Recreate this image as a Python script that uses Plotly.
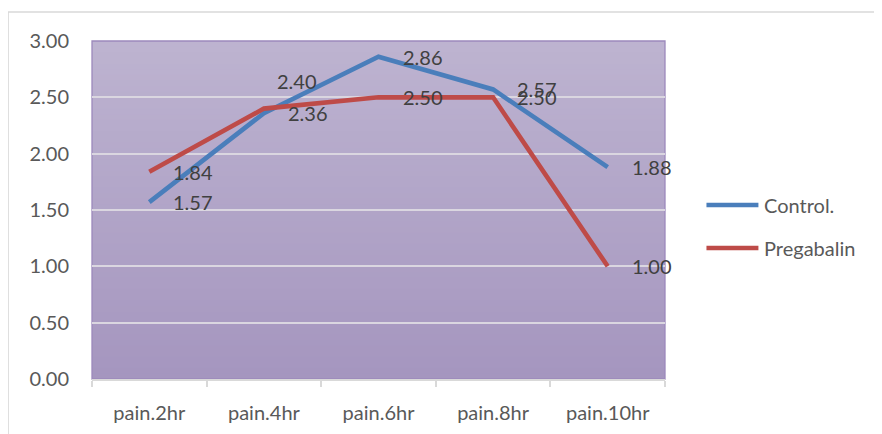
import plotly.graph_objects as go

categories = ["pain.2hr", "pain.4hr", "pain.6hr", "pain.8hr", "pain.10hr"]
series_names = ["Control.", "Pregabalin"]
control = [1.57, 2.36, 2.86, 2.57, 1.88]
pregabalin = [1.84, 2.40, 2.50, 2.50, 1.00]
y_ticks = [0, 0.5, 1.0, 1.5, 2.0, 2.5, 3.0]

colors = ["#4A7EBB", "#BE4B48"]
FONT = "Lato"
FS = 20
OFF = 8  # page body offset compensation
W, H = 882, 434
ML, MT = 92 - OFF, 41 - OFF
PW, PH = 573.5, 338
MR = W - ML - PW
MB = H - MT - PH


def px_x(p):
    return (p - OFF - ML) / PW


def px_y(p):
    return (MT + PH - (p - OFF)) / PH


fig = go.Figure()
all_series = [control, pregabalin]
for name, vals, col in zip(series_names, all_series, colors):
    fig.add_trace(go.Scatter(
        x=categories, y=vals, mode="lines", name=name,
        line=dict(color=col, width=4.6), showlegend=False,
    ))

shapes = []
# gradient background: overlapping bands (no seams)
top_c = (189, 179, 208)
bot_c = (165, 150, 191)
n = 60
for i in range(n):
    t = i / (n - 1)
    c = tuple(round(top_c[k] + (bot_c[k] - top_c[k]) * t) for k in range(3))
    shapes.append(dict(type="rect", xref="paper", yref="paper",
                       x0=0, x1=1, y0=0, y1=1 - i / n,
                       fillcolor="rgb(%d,%d,%d)" % c, line=dict(width=0), layer="below"))
# plot area border
shapes.append(dict(type="rect", xref="paper", yref="paper", x0=0, x1=1, y0=0, y1=1,
                   line=dict(color="#9C89BC", width=1.3), fillcolor="rgba(0,0,0,0)", layer="below"))
# outer chart border
shapes.append(dict(type="rect", xref="paper", yref="paper",
                   x0=px_x(8), x1=px_x(W + 30), y0=px_y(H + 30), y1=px_y(12),
                   line=dict(color="#D9D9D9", width=1.5), fillcolor="rgba(0,0,0,0)", layer="below"))

annotations = []
# data labels (pixel offsets, styling only)
label_shift = {("Pregabalin", 1): (11, 28)}
for name, vals in zip(series_names, all_series):
    for i, (c, v) in enumerate(zip(categories, vals)):
        dx, dy = label_shift.get((name, i), (22, 0))
        annotations.append(dict(x=c, y=v, xref="x", yref="y", text="%.2f" % v,
                                showarrow=False, xanchor="left", yanchor="middle",
                                xshift=dx, yshift=dy,
                                font=dict(family=FONT, size=FS, color="#404040")))

# manual legend
leg_y = [205, 248]
for name, col, yy in zip(series_names, colors, leg_y):
    shapes.append(dict(type="line", xref="paper", yref="paper",
                       x0=px_x(707), x1=px_x(759), y0=px_y(yy), y1=px_y(yy),
                       line=dict(color=col, width=4.6)))
    annotations.append(dict(x=px_x(763), y=px_y(yy), xref="paper", yref="paper",
                            text=name, showarrow=False, xanchor="left", yanchor="middle",
                            font=dict(family=FONT, size=FS, color="#595959")))

fig.update_layout(
    width=W, height=H,
    margin=dict(l=ML, r=MR, t=MT, b=MB, autoexpand=False),
    paper_bgcolor="white", plot_bgcolor="rgba(0,0,0,0)",
    shapes=shapes, annotations=annotations, showlegend=False,
    font=dict(family=FONT, size=FS, color="#595959"),
)
fig.update_xaxes(
    type="category", range=[-0.5, 4.5], showgrid=False, automargin=False,
    showline=True, linecolor="#D9D9D9", linewidth=2,
    ticks="outside", tickson="boundaries", ticklen=6, tickcolor="#D9D9D9", tickwidth=1.5,
    tickfont=dict(family=FONT, size=FS, color="#595959"), ticklabelstandoff=15,
)
fig.update_yaxes(
    range=[0, 3], tickvals=y_ticks, tickformat=".2f", automargin=False,
    showgrid=True, gridcolor="#DAD6E0", gridwidth=2, zeroline=False,
    showline=False, ticks="",
    tickfont=dict(family=FONT, size=FS, color="#595959"), ticklabelstandoff=22,
)

fig.write_html("out.html")
